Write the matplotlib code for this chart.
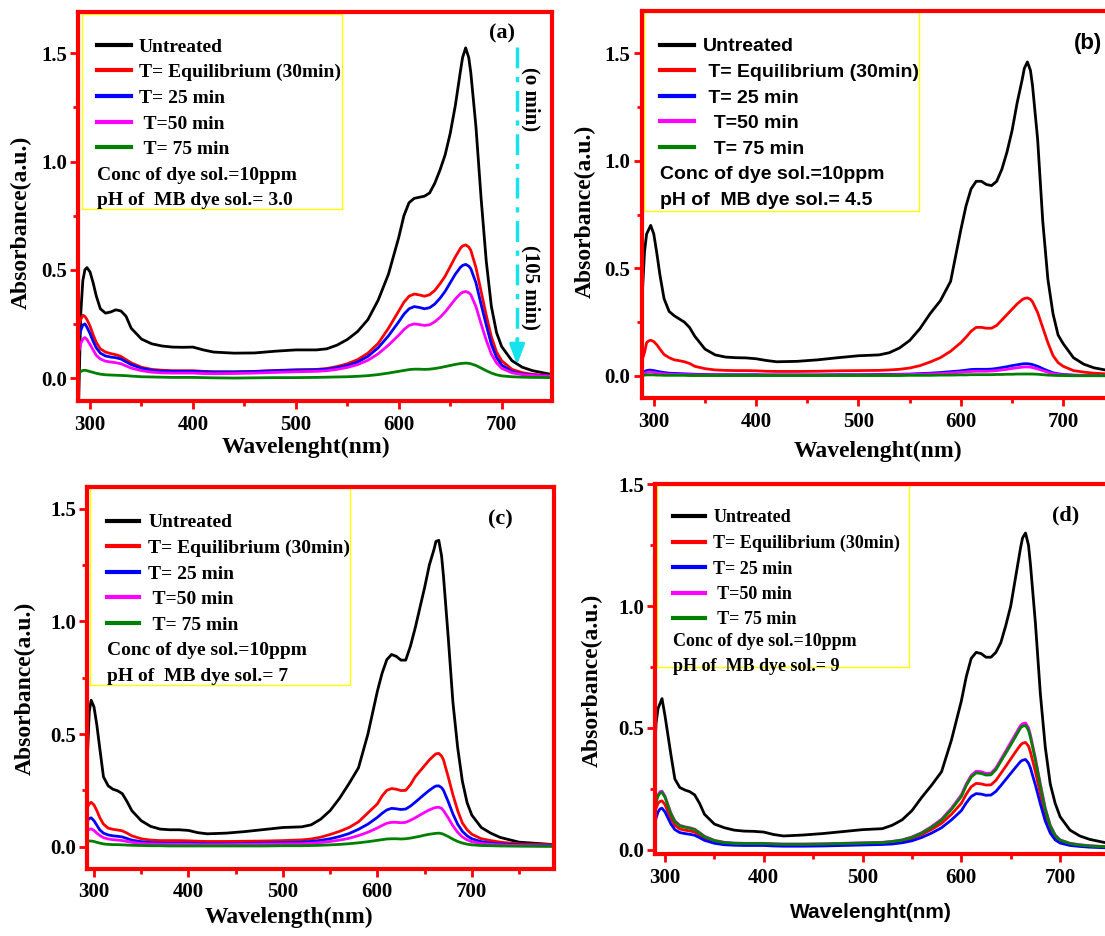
import matplotlib
matplotlib.use('Agg')
import matplotlib.pyplot as plt
from matplotlib.ticker import MultipleLocator, FormatStrFormatter
from matplotlib.patches import Rectangle

plt.rcParams['font.family'] = ['Liberation Serif', 'DejaVu Serif']
plt.rcParams['font.weight'] = 'bold'
plt.rcParams['axes.labelweight'] = 'bold'

# ---------------- data ----------------
wavelength = [289, 291, 293, 295, 297, 300, 303, 306, 310, 315, 320, 325, 330, 335, 340,
              350, 360, 370, 380, 390, 400, 410, 420, 440, 460, 480, 500, 520, 530, 540,
              550, 560, 570, 580, 590, 600, 605, 610, 615, 620, 625, 630, 635, 640, 645,
              650, 655, 660, 662, 665, 668, 670, 675, 680, 685, 690, 695, 700, 710, 720, 730, 750]
wavelength_c = wavelength + [787]

labels_serif = ["Untreated", "T= Equilibrium (30min)", "T= 25 min", " T=50 min", " T= 75 min"]
labels_sans = ["Untreated", " T= Equilibrium (30min)", " T= 25 min", "  T=50 min", "  T= 75 min"]
conc_text = "Conc of dye sol.=10ppm"
ph_a, ph_b, ph_c, ph_d = "pH of  MB dye sol.= 3.0", "pH of  MB dye sol.= 4.5", "pH of  MB dye sol.= 7", "pH of  MB dye sol.= 9"

# panel (a) pH 3.0
a_untreated = [-0.10, 0.30, 0.45, 0.50, 0.51, 0.49, 0.44, 0.38, 0.32, 0.30, 0.305, 0.315, 0.31, 0.285, 0.23,
               0.18, 0.158, 0.148, 0.143, 0.142, 0.143, 0.13, 0.12, 0.115, 0.116, 0.124, 0.13, 0.13, 0.135, 0.152,
               0.178, 0.215, 0.27, 0.36, 0.48, 0.65, 0.75, 0.81, 0.83, 0.835, 0.84, 0.855, 0.9, 0.96, 1.03,
               1.13, 1.26, 1.42, 1.48, 1.525, 1.48, 1.41, 1.16, 0.83, 0.54, 0.33, 0.21, 0.145, 0.08, 0.05, 0.034, 0.015]
a_equil = [0.245, 0.27, 0.29, 0.285, 0.27, 0.24, 0.2, 0.165, 0.135, 0.12, 0.113, 0.108, 0.1, 0.085, 0.07,
           0.05, 0.04, 0.036, 0.034, 0.034, 0.034, 0.031, 0.029, 0.029, 0.031, 0.035, 0.038, 0.04, 0.044, 0.053,
           0.066, 0.085, 0.115, 0.16, 0.23, 0.31, 0.35, 0.378, 0.388, 0.384, 0.378, 0.385, 0.405, 0.435, 0.47,
           0.515, 0.56, 0.6, 0.61, 0.615, 0.605, 0.59, 0.51, 0.40, 0.29, 0.19, 0.12, 0.08, 0.04, 0.025, 0.017, 0.01]
a_t25 = [0.19, 0.22, 0.245, 0.25, 0.235, 0.205, 0.17, 0.14, 0.115, 0.102, 0.097, 0.094, 0.088, 0.075, 0.062,
         0.045, 0.036, 0.032, 0.031, 0.031, 0.031, 0.029, 0.028, 0.028, 0.03, 0.034, 0.037, 0.038, 0.041, 0.048,
         0.058, 0.074, 0.1, 0.14, 0.195, 0.26, 0.295, 0.32, 0.33, 0.326, 0.32, 0.325, 0.342, 0.368, 0.4,
         0.44, 0.48, 0.512, 0.52, 0.525, 0.517, 0.505, 0.44, 0.34, 0.245, 0.155, 0.095, 0.06, 0.03, 0.019, 0.014, 0.009]
a_t50 = [0.12, 0.16, 0.18, 0.187, 0.178, 0.155, 0.13, 0.105, 0.088, 0.078, 0.074, 0.071, 0.066, 0.056, 0.046,
         0.034, 0.027, 0.024, 0.023, 0.023, 0.023, 0.021, 0.02, 0.021, 0.023, 0.026, 0.029, 0.031, 0.034, 0.04,
         0.049, 0.062, 0.082, 0.112, 0.152, 0.198, 0.224, 0.243, 0.25, 0.247, 0.243, 0.246, 0.26, 0.28, 0.305,
         0.335, 0.365, 0.39, 0.396, 0.4, 0.394, 0.385, 0.33, 0.25, 0.175, 0.11, 0.07, 0.045, 0.024, 0.016, 0.012, 0.008]
a_t75 = [0.02, 0.03, 0.035, 0.036, 0.034, 0.03, 0.026, 0.022, 0.018, 0.015, 0.014, 0.013, 0.012, 0.011, 0.009,
         0.006, 0.005, 0.004, 0.003, 0.003, 0.003, 0.002, 0.001, 0.0, 0.001, 0.002, 0.002, 0.003, 0.004, 0.005,
         0.006, 0.008, 0.011, 0.016, 0.023, 0.031, 0.035, 0.039, 0.041, 0.041, 0.04, 0.041, 0.044, 0.048, 0.053,
         0.058, 0.063, 0.067, 0.068, 0.069, 0.068, 0.066, 0.058, 0.046, 0.034, 0.023, 0.015, 0.01, 0.006, 0.004, 0.003, 0.002]

# panel (b) pH 4.5
b_untreated = [0.40, 0.58, 0.66, 0.68, 0.70, 0.66, 0.57, 0.47, 0.36, 0.30, 0.28, 0.265, 0.25, 0.225, 0.185,
               0.125, 0.098, 0.088, 0.085, 0.084, 0.08, 0.072, 0.066, 0.068, 0.075, 0.085, 0.094, 0.098, 0.108, 0.13,
               0.165, 0.22, 0.29, 0.35, 0.44, 0.68, 0.79, 0.87, 0.905, 0.905, 0.89, 0.885, 0.905, 0.96, 1.04,
               1.14, 1.27, 1.38, 1.43, 1.46, 1.42, 1.35, 1.1, 0.72, 0.45, 0.29, 0.19, 0.15, 0.085, 0.055, 0.038, 0.02]
b_equil = [0.08, 0.11, 0.155, 0.163, 0.166, 0.16, 0.145, 0.125, 0.1, 0.085, 0.075, 0.071, 0.066, 0.058, 0.045,
           0.034, 0.028, 0.026, 0.025, 0.025, 0.024, 0.022, 0.021, 0.021, 0.022, 0.024, 0.025, 0.026, 0.028, 0.031,
           0.037, 0.048, 0.065, 0.085, 0.115, 0.155, 0.18, 0.208, 0.226, 0.226, 0.222, 0.222, 0.235, 0.26, 0.285,
           0.31, 0.335, 0.355, 0.36, 0.363, 0.356, 0.345, 0.295, 0.225, 0.155, 0.095, 0.062, 0.045, 0.025, 0.018, 0.013, 0.008]
b_t25 = [0.015, 0.02, 0.025, 0.027, 0.027, 0.025, 0.022, 0.019, 0.016, 0.013, 0.012, 0.011, 0.01, 0.009, 0.008,
         0.007, 0.006, 0.006, 0.006, 0.006, 0.006, 0.005, 0.005, 0.005, 0.005, 0.006, 0.006, 0.007, 0.007, 0.008,
         0.009, 0.011, 0.013, 0.016, 0.02, 0.024, 0.027, 0.03, 0.031, 0.031, 0.031, 0.032, 0.035, 0.039, 0.043,
         0.048, 0.052, 0.056, 0.057, 0.057, 0.055, 0.053, 0.045, 0.034, 0.024, 0.015, 0.01, 0.007, 0.004, 0.003, 0.002, 0.002]
b_t50 = [0.008, 0.012, 0.016, 0.018, 0.018, 0.016, 0.014, 0.012, 0.01, 0.008, 0.007, 0.007, 0.006, 0.006, 0.005,
         0.005, 0.004, 0.004, 0.004, 0.004, 0.004, 0.004, 0.004, 0.004, 0.004, 0.004, 0.005, 0.005, 0.005, 0.006,
         0.007, 0.008, 0.009, 0.011, 0.014, 0.017, 0.019, 0.021, 0.022, 0.022, 0.022, 0.023, 0.025, 0.028, 0.031,
         0.035, 0.038, 0.041, 0.042, 0.042, 0.041, 0.039, 0.033, 0.025, 0.017, 0.011, 0.007, 0.005, 0.003, 0.002, 0.002, 0.001]
b_t75 = [0.003, 0.004, 0.005, 0.005, 0.005, 0.005, 0.004, 0.004, 0.003, 0.003, 0.003, 0.003, 0.003, 0.002, 0.002,
         0.002, 0.002, 0.002, 0.002, 0.002, 0.002, 0.002, 0.002, 0.002, 0.002, 0.002, 0.002, 0.002, 0.002, 0.002,
         0.003, 0.003, 0.003, 0.004, 0.004, 0.005, 0.005, 0.006, 0.006, 0.006, 0.006, 0.006, 0.007, 0.007, 0.008,
         0.008, 0.009, 0.009, 0.009, 0.009, 0.009, 0.009, 0.008, 0.006, 0.004, 0.003, 0.002, 0.002, 0.001, 0.001, 0.001, 0.001]

# panel (c) pH 7
c_untreated = [0.30, 0.33, 0.40, 0.60, 0.65, 0.62, 0.54, 0.44, 0.31, 0.27, 0.255, 0.248, 0.235, 0.2, 0.16,
               0.115, 0.09, 0.078, 0.075, 0.075, 0.072, 0.062, 0.057, 0.06, 0.067, 0.076, 0.085, 0.088, 0.097, 0.122,
               0.16, 0.215, 0.28, 0.35, 0.5, 0.69, 0.77, 0.83, 0.853, 0.845, 0.828, 0.828, 0.89, 0.97, 1.06,
               1.15, 1.25, 1.32, 1.355, 1.36, 1.29, 1.2, 0.93, 0.64, 0.44, 0.29, 0.195, 0.14, 0.085, 0.06, 0.041, 0.02, 0.009]
c_equil = [0.12, 0.15, 0.175, 0.19, 0.197, 0.185, 0.16, 0.13, 0.1, 0.082, 0.077, 0.074, 0.07, 0.06, 0.048,
           0.035, 0.029, 0.027, 0.027, 0.027, 0.026, 0.024, 0.023, 0.023, 0.024, 0.025, 0.027, 0.03, 0.034, 0.042,
           0.054, 0.068, 0.085, 0.11, 0.15, 0.19, 0.225, 0.25, 0.258, 0.255, 0.249, 0.25, 0.275, 0.31, 0.335,
           0.36, 0.385, 0.405, 0.412, 0.414, 0.402, 0.385, 0.31, 0.23, 0.16, 0.105, 0.075, 0.055, 0.035, 0.027, 0.02, 0.012, 0.008]
c_t25 = [0.08, 0.1, 0.115, 0.125, 0.128, 0.115, 0.095, 0.075, 0.06, 0.052, 0.048, 0.046, 0.043, 0.036, 0.029,
         0.022, 0.018, 0.016, 0.015, 0.015, 0.015, 0.014, 0.013, 0.013, 0.014, 0.016, 0.018, 0.02, 0.023, 0.028,
         0.035, 0.045, 0.058, 0.077, 0.1, 0.13, 0.148, 0.163, 0.17, 0.168, 0.165, 0.167, 0.18, 0.197, 0.215,
         0.233, 0.25, 0.265, 0.269, 0.27, 0.262, 0.25, 0.2, 0.145, 0.1, 0.068, 0.048, 0.035, 0.022, 0.016, 0.012, 0.008, 0.005]
c_t50 = [0.05, 0.06, 0.07, 0.077, 0.079, 0.072, 0.06, 0.05, 0.04, 0.034, 0.031, 0.029, 0.027, 0.023, 0.019,
         0.014, 0.012, 0.011, 0.01, 0.01, 0.01, 0.009, 0.009, 0.009, 0.01, 0.011, 0.012, 0.013, 0.015, 0.018,
         0.023, 0.029, 0.037, 0.049, 0.064, 0.083, 0.094, 0.104, 0.108, 0.108, 0.106, 0.108, 0.117, 0.128, 0.14,
         0.152, 0.163, 0.172, 0.174, 0.175, 0.17, 0.16, 0.128, 0.092, 0.064, 0.043, 0.03, 0.022, 0.014, 0.01, 0.008, 0.005, 0.003]
c_t75 = [0.015, 0.02, 0.024, 0.025, 0.025, 0.023, 0.019, 0.016, 0.012, 0.01, 0.009, 0.009, 0.008, 0.007, 0.006,
         0.005, 0.004, 0.004, 0.003, 0.003, 0.003, 0.003, 0.003, 0.003, 0.003, 0.003, 0.004, 0.004, 0.005, 0.006,
         0.008, 0.01, 0.013, 0.017, 0.022, 0.028, 0.031, 0.034, 0.035, 0.035, 0.034, 0.035, 0.038, 0.042, 0.046,
         0.051, 0.055, 0.058, 0.059, 0.06, 0.058, 0.055, 0.045, 0.033, 0.023, 0.016, 0.011, 0.008, 0.005, 0.004, 0.003, 0.002, 0.001]

# panel (d) pH 9
d_untreated = [0.36, 0.52, 0.58, 0.6, 0.62, 0.55, 0.47, 0.39, 0.29, 0.255, 0.245, 0.238, 0.225, 0.19, 0.145,
               0.105, 0.09, 0.08, 0.076, 0.075, 0.072, 0.062, 0.056, 0.06, 0.066, 0.074, 0.082, 0.086, 0.1, 0.122,
               0.16, 0.215, 0.265, 0.32, 0.45, 0.61, 0.71, 0.785, 0.81, 0.805, 0.79, 0.79, 0.81, 0.85, 0.92,
               1.0, 1.12, 1.24, 1.28, 1.30, 1.25, 1.17, 0.93, 0.64, 0.42, 0.27, 0.19, 0.135, 0.08, 0.056, 0.042, 0.025]
d_equil = [0.14, 0.17, 0.19, 0.198, 0.2, 0.185, 0.155, 0.128, 0.1, 0.085, 0.08, 0.077, 0.072, 0.06, 0.047,
           0.033, 0.026, 0.024, 0.023, 0.023, 0.023, 0.021, 0.02, 0.02, 0.021, 0.023, 0.025, 0.027, 0.03, 0.036,
           0.046, 0.062, 0.083, 0.108, 0.145, 0.19, 0.228, 0.258, 0.272, 0.27, 0.265, 0.266, 0.284, 0.313, 0.342,
           0.372, 0.402, 0.43, 0.437, 0.44, 0.425, 0.4, 0.32, 0.23, 0.145, 0.086, 0.052, 0.035, 0.023, 0.017, 0.014, 0.01]
d_t25 = [0.09, 0.13, 0.155, 0.167, 0.17, 0.155, 0.13, 0.105, 0.082, 0.07, 0.066, 0.063, 0.059, 0.049, 0.038,
         0.026, 0.02, 0.018, 0.017, 0.017, 0.017, 0.015, 0.014, 0.014, 0.015, 0.017, 0.019, 0.021, 0.023, 0.028,
         0.036, 0.05, 0.068, 0.09, 0.122, 0.16, 0.192, 0.218, 0.23, 0.228, 0.223, 0.224, 0.239, 0.263, 0.288,
         0.313, 0.338, 0.362, 0.367, 0.37, 0.355, 0.335, 0.265, 0.188, 0.117, 0.068, 0.04, 0.027, 0.017, 0.013, 0.01, 0.007]
d_t50 = [0.165, 0.2, 0.225, 0.238, 0.24, 0.22, 0.185, 0.15, 0.118, 0.1, 0.094, 0.09, 0.084, 0.07, 0.055,
         0.038, 0.03, 0.027, 0.026, 0.026, 0.026, 0.024, 0.023, 0.023, 0.024, 0.026, 0.028, 0.03, 0.034, 0.04,
         0.052, 0.07, 0.095, 0.125, 0.17, 0.225, 0.27, 0.305, 0.322, 0.32, 0.313, 0.314, 0.335, 0.37, 0.405,
         0.44, 0.475, 0.51, 0.517, 0.52, 0.5, 0.47, 0.375, 0.27, 0.17, 0.1, 0.06, 0.04, 0.026, 0.02, 0.016, 0.012]
d_t75 = [0.16, 0.195, 0.22, 0.232, 0.235, 0.215, 0.18, 0.146, 0.115, 0.097, 0.092, 0.088, 0.082, 0.068, 0.053,
         0.037, 0.029, 0.026, 0.025, 0.025, 0.025, 0.023, 0.022, 0.022, 0.023, 0.025, 0.027, 0.029, 0.033, 0.039,
         0.05, 0.068, 0.092, 0.121, 0.165, 0.218, 0.263, 0.298, 0.315, 0.313, 0.306, 0.307, 0.328, 0.362, 0.396,
         0.43, 0.465, 0.5, 0.507, 0.51, 0.49, 0.46, 0.367, 0.262, 0.165, 0.097, 0.058, 0.039, 0.025, 0.019, 0.015, 0.011]

# arrow annotation (panel a)
arrow_x = 715
arrow_top, arrow_head_start, arrow_tip = 1.53, 0.17, 0.06
time_labels = ["(o min)", "(105 min)"]
time_label_pos = [(728, 1.29), (728, 0.42)]

colors = ['#000000', '#ff0000', '#0000ff', '#ff00ff', '#008000']
SERIF = 'Liberation Serif'
SANS = 'Liberation Sans'
W, H = 1105, 936
TEXT_H = 0.908   # legend text box height in em


def px(l, t, r, b):
    return [l / W, 1 - b / H, (r - l) / W, (b - t) / H]


fig = plt.figure(figsize=(11.05, 9.36), dpi=100)

panels = [
    dict(pos=px(78, 11.7, 551.7, 401), wl=wavelength,
         series=[a_untreated, a_equil, a_t25, a_t50, a_t75],
         xlim=(288.3, 748.6), ylim=(-0.106, 1.692), labels=labels_serif, legfont=SERIF, legsize=14,
         leg_x=0.0395, row1=0.910, pitch=0.066, box=(0.008, 0.492, 0.557, 0.994),
         ph=ph_a, tag='(a)', tagfont=SERIF, tagpos=(0.895, 0.945),
         xlabel='Wavelenght(nm)', xlabfont=SERIF, xlabsize=17, xlabpos=(0.481, -0.118),
         ylabpos=(-0.119, 0.46), handle_len=1.74, textpad=0.42),
    dict(pos=px(641.7, 10.7, 1114.4, 397.7), wl=wavelength,
         series=[b_untreated, b_equil, b_t25, b_t50, b_t75],
         xlim=(288.2, 750), ylim=(-0.101, 1.698), labels=labels_sans, legfont=SANS, legsize=14,
         leg_x=0.0387, row1=0.907, pitch=0.0662, box=(0.005, 0.483, 0.586, 0.997),
         ph=ph_b, tag='(b)', tagfont=SANS, tagpos=(0.944, 0.915),
         xlabel='Wavelenght(nm)', xlabfont=SERIF, xlabsize=17, xlabpos=(0.5, -0.138),
         ylabpos=(-0.12, 0.4824), handle_len=1.74, textpad=0.45),
    dict(pos=px(87.3, 486.7, 554, 868.5), wl=wavelength_c,
         series=[c_untreated, c_equil, c_t25, c_t50, c_t75],
         xlim=(292.9, 787), ylim=(-0.097, 1.598), labels=labels_serif, legfont=SERIF, legsize=14,
         leg_x=0.0422, row1=0.9057, pitch=0.067, box=(0.006, 0.48, 0.563, 0.997),
         ph=ph_c, tag='(c)', tagfont=SERIF, tagpos=(0.886, 0.913),
         xlabel='Wavelength(nm)', xlabfont=SERIF, xlabsize=17, xlabpos=(0.433, -0.127),
         ylabpos=(-0.1335, 0.4714), handle_len=1.65, textpad=0.47),
    dict(pos=px(655, 484.3, 1109.5, 854), wl=wavelength,
         series=[d_untreated, d_equil, d_t25, d_t50, d_t75],
         xlim=(289.9, 750), ylim=(-0.018, 1.5), labels=labels_serif, legfont=SERIF, legsize=13,
         leg_x=0.0396, row1=0.9097, pitch=0.067, box=(0.004, 0.506, 0.5595, 0.997),
         ph=ph_d, tag='(d)', tagfont=SERIF, tagpos=(0.904, 0.917),
         xlabel='Wavelenght(nm)', xlabfont=SANS, xlabsize=15, xlabpos=(0.475, -0.157),
         ylabpos=(-0.139, 0.4706), handle_len=1.75, textpad=0.48),
]

axes = []
for p in panels:
    ax = fig.add_axes(p['pos'])
    axes.append(ax)
    handles = []
    for vals, col, lab in zip(p['series'], colors, p['labels']):
        ln, = ax.plot(p['wl'], vals, color=col, lw=2.0, label=lab, solid_joinstyle='round')
        handles.append(ln)
    ax.set_xlim(*p['xlim'])
    ax.set_ylim(*p['ylim'])
    for s in ax.spines.values():
        s.set_color('#ff0000')
        s.set_linewidth(3.0)
    ax.xaxis.set_major_locator(MultipleLocator(100))
    ax.xaxis.set_minor_locator(MultipleLocator(50))
    ax.yaxis.set_major_locator(MultipleLocator(0.5))
    ax.yaxis.set_minor_locator(MultipleLocator(0.25))
    ax.yaxis.set_major_formatter(FormatStrFormatter('%.1f'))
    ax.tick_params(which='major', direction='out', length=6, width=2, color='#ff0000',
                   labelsize=15, labelcolor='black')
    ax.tick_params(which='minor', direction='out', length=3.5, width=2, color='#ff0000')
    ax.tick_params(axis='y', which='major', pad=2)
    ax.tick_params(axis='x', which='major', pad=4)
    for lab in ax.get_xticklabels() + ax.get_yticklabels():
        lab.set_fontfamily(SERIF)
        lab.set_fontweight('bold')

    ax.set_ylabel('Absorbance(a.u.)', fontsize=17, fontfamily=SERIF, fontweight='bold', va='center')
    ax.yaxis.set_label_coords(*p['ylabpos'])
    ax.set_xlabel(p['xlabel'], fontsize=p['xlabsize'], fontfamily=p['xlabfont'], fontweight='bold',
                  va='center')
    ax.xaxis.set_label_coords(*p['xlabpos'])

    # legend box
    x0, y0, x1, y1 = p['box']
    ax.add_patch(Rectangle((x0, y0), x1 - x0, y1 - y0, transform=ax.transAxes, fill=False,
                           edgecolor='#ffff00', lw=1.0, zorder=1))
    fs_px = p['legsize'] * 100 / 72
    h_axes_px = p['pos'][3] * H
    leg = ax.legend(handles=handles, loc='upper left',
                    bbox_to_anchor=(p['leg_x'], p['row1'] + 0.5 * TEXT_H * fs_px / h_axes_px),
                    frameon=False, borderpad=0, borderaxespad=0,
                    handlelength=p['handle_len'], handletextpad=p['textpad'],
                    labelspacing=(p['pitch'] * h_axes_px - TEXT_H * fs_px) / fs_px,
                    prop=dict(family=p['legfont'], weight='bold', size=p['legsize']))
    for lh in leg.get_lines():
        lh.set_linewidth(3.0)
    ax.text(p['leg_x'], p['row1'] - 5 * p['pitch'], conc_text, transform=ax.transAxes,
            ha='left', va='center', fontsize=p['legsize'], fontfamily=p['legfont'], fontweight='bold')
    ax.text(p['leg_x'], p['row1'] - 6 * p['pitch'], p['ph'], transform=ax.transAxes,
            ha='left', va='center', fontsize=p['legsize'], fontfamily=p['legfont'], fontweight='bold')
    ax.text(p['tagpos'][0], p['tagpos'][1], p['tag'], transform=ax.transAxes, ha='center', va='center',
            fontsize=16, fontfamily=p['tagfont'], fontweight='bold')

# arrow and time labels in panel (a)
ax_a = axes[0]
ax_a.plot([arrow_x, arrow_x], [arrow_top, arrow_head_start], color='#17e3ee', lw=2.5,
          linestyle=(0, (6, 2.5, 1.5, 2.5)))
ax_a.annotate('', xy=(arrow_x, arrow_tip), xytext=(arrow_x, arrow_head_start + 0.01),
              arrowprops=dict(arrowstyle='-|>,head_length=1.2,head_width=0.45', color='#17e3ee', lw=2.5,
                              shrinkA=0, shrinkB=0))
for txt, (tx, ty) in zip(time_labels, time_label_pos):
    ax_a.text(tx, ty, txt, rotation=270, ha='center', va='center', fontsize=15,
              fontfamily=SERIF, fontweight='bold')

fig.savefig('out.png', dpi=100)
